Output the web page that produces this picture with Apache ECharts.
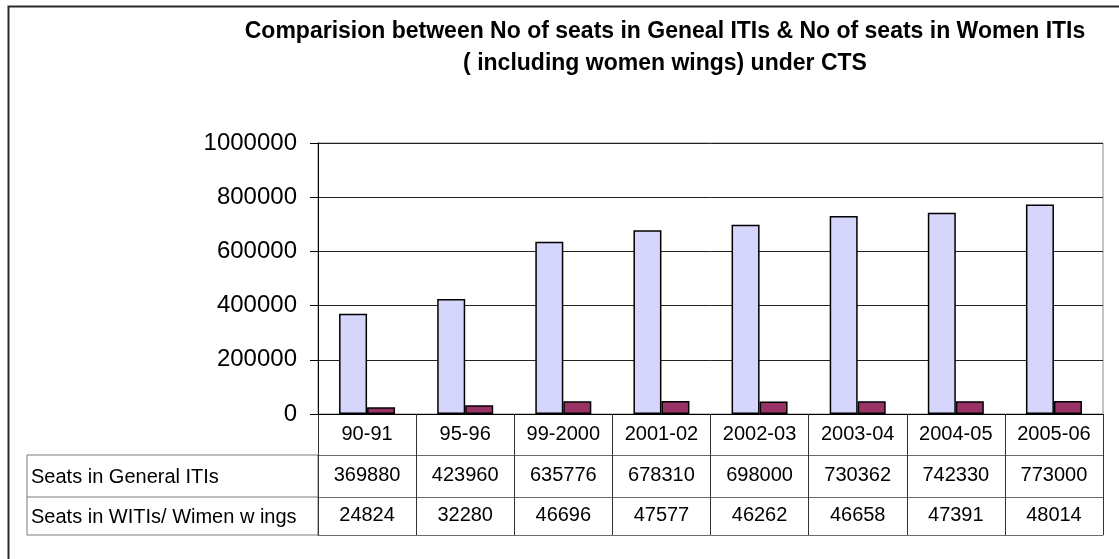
<!DOCTYPE html>
<html>
<head>
<meta charset="utf-8">
<script src="https://cdn.jsdelivr.net/npm/echarts@6/dist/echarts.min.js"></script>
<style>html,body{margin:0;padding:0;background:#fff;}#chart{width:1119px;height:559px;}</style>
</head>
<body>
<div id="chart"></div>
<script>
const categories = ['90-91', '95-96', '99-2000', '2001-02', '2002-03', '2003-04', '2004-05', '2005-06'];
const generalSeats = [369880, 423960, 635776, 678310, 698000, 730362, 742330, 773000];
const womenSeats = [24824, 32280, 46696, 47577, 46262, 46658, 47391, 48014];
const seriesNames = ['Seats in General ITIs', 'Seats in WITIs/ Wimen w ings'];
const yTicks = [0, 200000, 400000, 600000, 800000, 1000000];
const titleLines = ['Comparision between No of seats in Geneal ITIs & No of seats in Women ITIs', '( including women wings) under CTS'];

const FONT = '"Liberation Sans", Arial, sans-serif';
const chart = echarts.init(document.getElementById('chart'), null, {renderer: 'canvas'});

const gridLeft = 318, gridRight = 16, gridTop = 143, gridBottom = 145;
const rowH = [41, 42, 38];
const TABLE_FS = 20;

function tableAxis(data, offset, tickLen, margin, showTicks) {
  return {
    type: 'category',
    data: data,
    position: 'bottom',
    offset: offset,
    gridIndex: 0,
    boundaryGap: true,
    axisLine: {show: true, lineStyle: {color: '#6a6a6a', width: 1}},
    axisTick: {show: showTicks, interval: 0, inside: false, length: tickLen, lineStyle: {color: '#333', width: 1}},
    axisLabel: {show: data.some(d => d !== ''), interval: 0, margin: margin, color: '#000', fontFamily: FONT, fontSize: TABLE_FS},
    splitLine: {show: false}
  };
}

const option = {
  animation: false,
  backgroundColor: '#fff',
  title: {
    text: titleLines.join('\n'),
    left: 660,
    top: 11,
    textAlign: 'center',
    textStyle: {fontFamily: FONT, fontWeight: 'bold', fontSize: 23, lineHeight: 32, color: '#000'}
  },
  grid: {left: gridLeft, right: gridRight, top: gridTop, bottom: gridBottom, show: true, borderColor: '#8a8a8a', borderWidth: 1, containLabel: false},
  xAxis: [
    Object.assign(tableAxis(categories, 0, rowH[0], 10, true), {axisLine: {show: true, lineStyle: {color: '#000', width: 1}}}),
    tableAxis(generalSeats.map(String), rowH[0], rowH[1], 10, true),
    tableAxis(womenSeats.map(String), rowH[0] + rowH[1], rowH[2], 8, true),
    tableAxis(categories.map(() => ''), rowH[0] + rowH[1] + rowH[2], 0, 0, false)
  ],
  yAxis: {
    type: 'value',
    min: yTicks[0],
    max: yTicks[yTicks.length - 1],
    interval: yTicks[1] - yTicks[0],
    axisLine: {show: true, lineStyle: {color: '#000', width: 1}},
    axisTick: {show: true, inside: false, length: 8, lineStyle: {color: '#000'}},
    axisLabel: {color: '#000', fontFamily: FONT, fontSize: 24, margin: 21, formatter: v => String(v)},
    splitLine: {show: true, lineStyle: {color: '#222', width: 1}}
  },
  series: [
    {
      name: seriesNames[0], type: 'bar', xAxisIndex: 0, data: generalSeats,
      barWidth: 28, barGap: '0%',
      itemStyle: {color: '#D6D6FC', borderColor: '#000', borderWidth: 1.5}
    },
    {
      name: seriesNames[1], type: 'bar', xAxisIndex: 0, data: womenSeats,
      barWidth: 28, barGap: '0%',
      itemStyle: {color: '#993366', borderColor: '#000', borderWidth: 1.5}
    }
  ],
  graphic: [
    {type: 'rect', left: 6, top: 4, shape: {width: 1200, height: 700}, style: {fill: 'none', stroke: '#2a2a2a', lineWidth: 2}, silent: true, z: 0},
    {type: 'rect', shape: {x: 27, y: 455, width: 291, height: 80}, style: {fill: 'none', stroke: '#7a7a7a', lineWidth: 1}, silent: true},
    {type: 'line', shape: {x1: 27, y1: 497, x2: 318, y2: 497}, style: {stroke: '#7a7a7a', lineWidth: 1}, silent: true},
    {type: 'text', x: 31, y: 477, style: {text: seriesNames[0], fontFamily: FONT, fontSize: TABLE_FS, fill: '#000', verticalAlign: 'middle'}, silent: true},
    {type: 'text', x: 31, y: 517, style: {text: seriesNames[1], fontFamily: FONT, fontSize: TABLE_FS, fill: '#000', verticalAlign: 'middle'}, silent: true}
  ]
};
chart.setOption(option);
</script>
</body>
</html>
